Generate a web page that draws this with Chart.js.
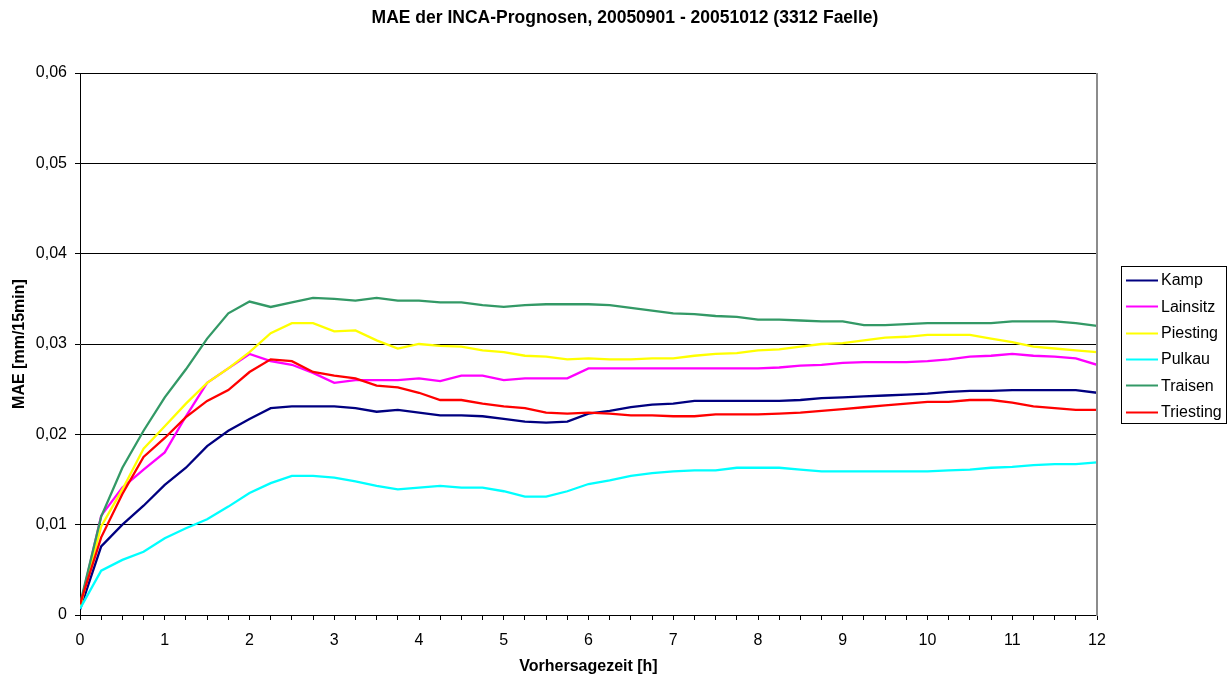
<!DOCTYPE html>
<html>
<head>
<meta charset="utf-8">
<title>MAE der INCA-Prognosen</title>
<script src="https://cdn.jsdelivr.net/npm/chart.js@4.4.1/dist/chart.umd.min.js"></script>
<style>
  html, body { margin: 0; padding: 0; background: #fff; }
  #wrap { width: 1230px; height: 679px; }
</style>
</head>
<body>
<div id="wrap"><canvas id="chart" width="1230" height="679"></canvas></div>
<script>
  'use strict';

  // Forecast lead time in hours (15 min steps).
  const hours = [
    0, 0.25, 0.5, 0.75, 1, 1.25, 1.5, 1.75, 2, 2.25, 2.5, 2.75,
    3, 3.25, 3.5, 3.75, 4, 4.25, 4.5, 4.75, 5, 5.25, 5.5, 5.75,
    6, 6.25, 6.5, 6.75, 7, 7.25, 7.5, 7.75, 8, 8.25, 8.5, 8.75,
    9, 9.25, 9.5, 9.75, 10, 10.25, 10.5, 10.75, 11, 11.25, 11.5, 11.75, 12
  ];

  // MAE per catchment [mm/15min].
  const kamp = [
    0.0006, 0.0076, 0.0100, 0.0121, 0.0144, 0.0163, 0.0187, 0.0204, 0.0217, 0.0229, 0.0231, 0.0231,
    0.0231, 0.0229, 0.0225, 0.0227, 0.0224, 0.0221, 0.0221, 0.0220, 0.0217, 0.0214, 0.0213, 0.0214,
    0.0223, 0.0226, 0.0230, 0.0233, 0.0234, 0.0237, 0.0237, 0.0237, 0.0237, 0.0237, 0.0238, 0.0240,
    0.0241, 0.0242, 0.0243, 0.0244, 0.0245, 0.0247, 0.0248, 0.0248, 0.0249, 0.0249, 0.0249, 0.0249, 0.0246
  ];
  const lainsitz = [
    0.0009, 0.0110, 0.0141, 0.0161, 0.0180, 0.0220, 0.0257, 0.0273, 0.0289, 0.0281, 0.0277, 0.0268,
    0.0257, 0.0260, 0.0260, 0.0260, 0.0262, 0.0259, 0.0265, 0.0265, 0.0260, 0.0262, 0.0262, 0.0262,
    0.0273, 0.0273, 0.0273, 0.0273, 0.0273, 0.0273, 0.0273, 0.0273, 0.0273, 0.0274, 0.0276, 0.0277,
    0.0279, 0.0280, 0.0280, 0.0280, 0.0281, 0.0283, 0.0286, 0.0287, 0.0289, 0.0287, 0.0286, 0.0284, 0.0277
  ];
  const piesting = [
    0.0009, 0.0098, 0.0139, 0.0184, 0.0209, 0.0234, 0.0257, 0.0273, 0.0291, 0.0312, 0.0323, 0.0323,
    0.0314, 0.0315, 0.0304, 0.0295, 0.0300, 0.0298, 0.0297, 0.0293, 0.0291, 0.0287, 0.0286, 0.0283,
    0.0284, 0.0283, 0.0283, 0.0284, 0.0284, 0.0287, 0.0289, 0.0290, 0.0293, 0.0294, 0.0297, 0.0300,
    0.0301, 0.0304, 0.0307, 0.0308, 0.0310, 0.0310, 0.0310, 0.0306, 0.0302, 0.0297, 0.0295, 0.0293, 0.0291
  ];
  const pulkau = [
    0.0007, 0.0049, 0.0061, 0.0070, 0.0085, 0.0096, 0.0106, 0.0120, 0.0135, 0.0146, 0.0154, 0.0154,
    0.0152, 0.0148, 0.0143, 0.0139, 0.0141, 0.0143, 0.0141, 0.0141, 0.0137, 0.0131, 0.0131, 0.0137,
    0.0145, 0.0149, 0.0154, 0.0157, 0.0159, 0.0160, 0.0160, 0.0163, 0.0163, 0.0163, 0.0161, 0.0159,
    0.0159, 0.0159, 0.0159, 0.0159, 0.0159, 0.0160, 0.0161, 0.0163, 0.0164, 0.0166, 0.0167, 0.0167, 0.0169
  ];
  const traisen = [
    0.0012, 0.0109, 0.0163, 0.0204, 0.0241, 0.0272, 0.0306, 0.0334, 0.0347, 0.0341, 0.0346, 0.0351,
    0.0350, 0.0348, 0.0351, 0.0348, 0.0348, 0.0346, 0.0346, 0.0343, 0.0341, 0.0343, 0.0344, 0.0344,
    0.0344, 0.0343, 0.0340, 0.0337, 0.0334, 0.0333, 0.0331, 0.0330, 0.0327, 0.0327, 0.0326, 0.0325,
    0.0325, 0.0321, 0.0321, 0.0322, 0.0323, 0.0323, 0.0323, 0.0323, 0.0325, 0.0325, 0.0325, 0.0323, 0.0320
  ];
  const triesting = [
    0.0012, 0.0086, 0.0134, 0.0175, 0.0196, 0.0219, 0.0237, 0.0249, 0.0269, 0.0283, 0.0281, 0.0269,
    0.0265, 0.0262, 0.0254, 0.0252, 0.0246, 0.0238, 0.0238, 0.0234, 0.0231, 0.0229, 0.0224, 0.0223,
    0.0224, 0.0223, 0.0221, 0.0221, 0.0220, 0.0220, 0.0222, 0.0222, 0.0222, 0.0223, 0.0224, 0.0226,
    0.0228, 0.0230, 0.0232, 0.0234, 0.0236, 0.0236, 0.0238, 0.0238, 0.0235, 0.0231, 0.0229, 0.0227, 0.0227
  ];

  const seriesNames = ['Kamp', 'Lainsitz', 'Piesting', 'Pulkau', 'Traisen', 'Triesting'];
  const seriesValues = [kamp, lainsitz, piesting, pulkau, traisen, triesting];
  const seriesColors = ['#000080', '#ff00ff', '#ffff00', '#00ffff', '#339966', '#ff0000'];

  const titleText = 'MAE der INCA-Prognosen, 20050901 - 20051012 (3312 Faelle)';
  const xTitle = 'Vorhersagezeit [h]';
  const yTitle = 'MAE [mm/15min]';

  const FONT = '"Liberation Sans", Arial, sans-serif';

  const datasets = seriesNames.map(function (name, i) {
    return {
      label: name,
      data: hours.map((h, k) => ({ x: h, y: seriesValues[i][k] })),
      borderColor: seriesColors[i],
      backgroundColor: seriesColors[i],
      borderWidth: 2.3,
      pointRadius: 0,
      tension: 0,
      // later series sit on top, like in the spreadsheet
      order: seriesNames.length - 1 - i,
    };
  });

  // Title, right frame edge and boxed legend.
  const decorations = {
    id: 'decorations',
    afterDraw(chart) {
      const { ctx, chartArea: a } = chart;
      ctx.save();

      ctx.strokeStyle = '#8c8c8c';
      ctx.lineWidth = 2;
      ctx.beginPath();
      ctx.moveTo(a.right, a.top);
      ctx.lineTo(a.right, a.bottom + 1);
      ctx.stroke();

      ctx.fillStyle = '#000';
      ctx.font = 'bold 17.5px ' + FONT;
      ctx.textAlign = 'center';
      ctx.textBaseline = 'middle';
      ctx.fillText(titleText, 625, 18);

      const lx = 1121, ly = 266, lw = 105, lh = 157;
      ctx.strokeStyle = '#000';
      ctx.lineWidth = 1;
      ctx.strokeRect(lx + 0.5, ly + 0.5, lw, lh);

      ctx.font = '16px ' + FONT;
      ctx.textAlign = 'left';
      seriesNames.forEach(function (name, i) {
        const y = ly + 14 + i * 26.3;
        ctx.strokeStyle = seriesColors[i];
        ctx.lineWidth = 2;
        ctx.beginPath();
        ctx.moveTo(lx + 5, Math.round(y) + 0.5);
        ctx.lineTo(lx + 37, Math.round(y) + 0.5);
        ctx.stroke();
        ctx.fillStyle = '#000';
        ctx.fillText(name, lx + 40, y + 1);
      });

      ctx.restore();
    },
  };

  const ctx = document.getElementById('chart').getContext('2d');
  new Chart(ctx, {
    type: 'line',
    data: { datasets: datasets },
    plugins: [decorations],
    options: {
      responsive: false,
      animation: false,
      events: [],
      layout: { padding: { top: 73, right: 133, bottom: 0, left: 0 } },
      plugins: {
        legend: { display: false },
        title: { display: false },
        tooltip: { enabled: false },
      },
      scales: {
        x: {
          type: 'linear',
          min: 0,
          max: 12,
          afterFit: function (scale) { scale.height = 64; },
          ticks: {
            stepSize: 0.25,
            autoSkip: false,
            maxRotation: 0,
            padding: 11,
            color: '#000',
            font: { family: FONT, size: 16 },
            callback: function (v) { return Number.isInteger(v) ? String(v) : ''; },
          },
          grid: { drawOnChartArea: false, color: '#000', tickLength: 5 },
          border: { color: '#000', width: 1 },
          title: {
            display: true,
            text: xTitle,
            color: '#000',
            font: { family: FONT, size: 16, weight: 'bold' },
            padding: { top: 0, bottom: 3 },
          },
        },
        y: {
          min: 0,
          max: 0.06,
          afterFit: function (scale) { scale.width = 80; },
          ticks: {
            stepSize: 0.01,
            padding: 8,
            color: '#000',
            font: { family: FONT, size: 16 },
            callback: function (v) { return v === 0 ? '0' : v.toFixed(2).replace('.', ','); },
          },
          grid: { color: '#000', lineWidth: 1, tickLength: 5 },
          border: { color: '#000', width: 1 },
          title: {
            display: true,
            text: yTitle,
            color: '#000',
            font: { family: FONT, size: 16, weight: 'bold' },
            padding: { top: 10, bottom: 0 },
          },
        },
      },
    },
  });
</script>
</body>
</html>
